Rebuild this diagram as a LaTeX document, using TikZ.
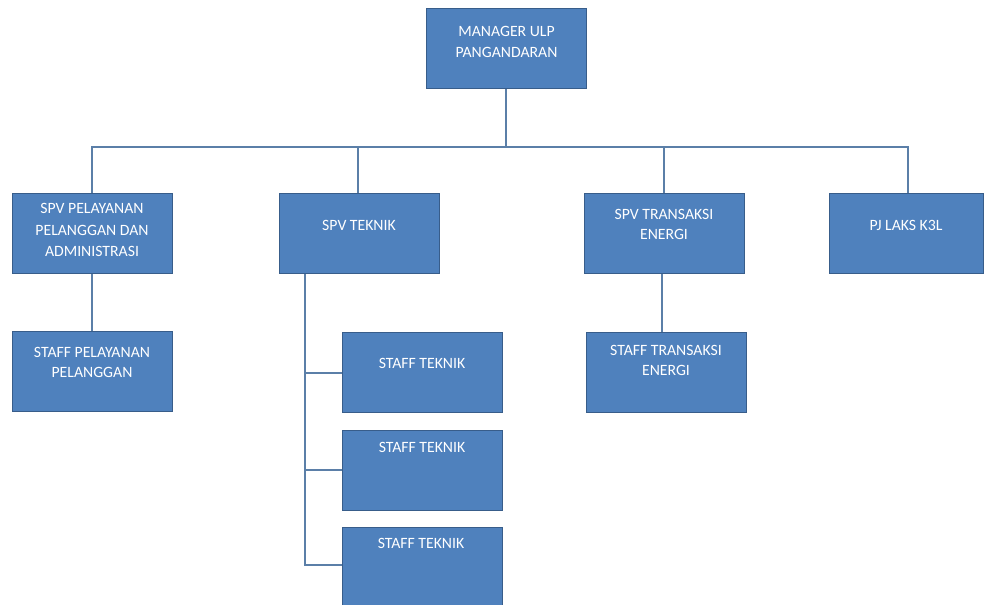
\documentclass[tikz,border=0pt]{standalone}
\usepackage{fontspec}
\setmainfont{Carlito}
\definecolor{boxfill}{HTML}{4F81BD}
\definecolor{boxline}{HTML}{385D8A}
\definecolor{conn}{HTML}{5B7FA8}
\begin{document}
\begin{tikzpicture}[x=0.75pt,y=-0.75pt,
  orgbox/.style={draw=boxline,fill=boxfill,line width=1.1pt,rectangle,inner sep=0pt,
     minimum width=120pt,minimum height=60pt,anchor=north west},
  txt/.style={text=white,font=\fontsize{11.8pt}{15.5pt}\selectfont,align=center,inner sep=0pt},
  link/.style={draw=conn,line width=0.9pt}]
\useasboundingbox (0,0) rectangle (985,605);
% boxes
\node[orgbox] (m) at (426,8) {};
\node[orgbox] (a) at (12,193) {};
\node[orgbox] (b) at (279,193) {};
\node[orgbox] (c) at (584,193) {};
\node[orgbox,minimum width=115.5pt] (d) at (829,193) {};
\node[orgbox] (a1) at (12,331) {};
\node[orgbox] (b1) at (342,332) {};
\node[orgbox] (b2) at (342,430) {};
\node[orgbox] (b3) at (342,527) {};
\node[orgbox] (c1) at (586,332) {};
% texts
\node[txt] (tm) at (506.5,42) {MANAGER ULP\\PANGANDARAN};
\node[txt,font=\fontsize{11.8pt}{16.3pt}\selectfont] (ta) at (92,230) {SPV PELAYANAN\\PELANGGAN DAN\\ADMINISTRASI};
\node[txt] (tb) at (359,225) {SPV TEKNIK};
\node[txt] (tc) at (664,224.5) {SPV TRANSAKSI\\ENERGI};
\node[txt] (td) at (906,225) {PJ LAKS K3L};
\node[txt] (ta1) at (92,362.5) {STAFF PELAYANAN\\PELANGGAN};
\node[txt] (tb1) at (422,363) {STAFF TEKNIK};
\node[txt] (tb2) at (422,447) {STAFF TEKNIK};
\node[txt] (tb3) at (421,543) {STAFF TEKNIK};
\node[txt] (tc1) at (666,360.5) {STAFF TRANSAKSI\\ENERGI};
% connectors
\coordinate (bus) at (506,147);
\draw[link] (m.south -| bus) -- (bus);
\draw[link] (a.north -| 92,0) -- (92,147) -- (908,147) -- (d.north -| 908,0);
\draw[link] (b.north -| 358,0) -- (358,147);
\draw[link] (c.north -| 664,0) -- (664,147);
\draw[link,line width=1pt] (a.south -| 92,0) -- (a1.north -| 92,0);
\draw[link] (c.south -| 662,0) -- (c1.north -| 662,0);
\coordinate (tk) at (305,565);
\draw[link] (b.south -| tk) -- (tk) -- (b3.west |- tk);
\draw[link] (305,373) -- (b1.west |- 0,373);
\draw[link] (305,470) -- (b2.west |- 0,470);
\end{tikzpicture}
\end{document}
